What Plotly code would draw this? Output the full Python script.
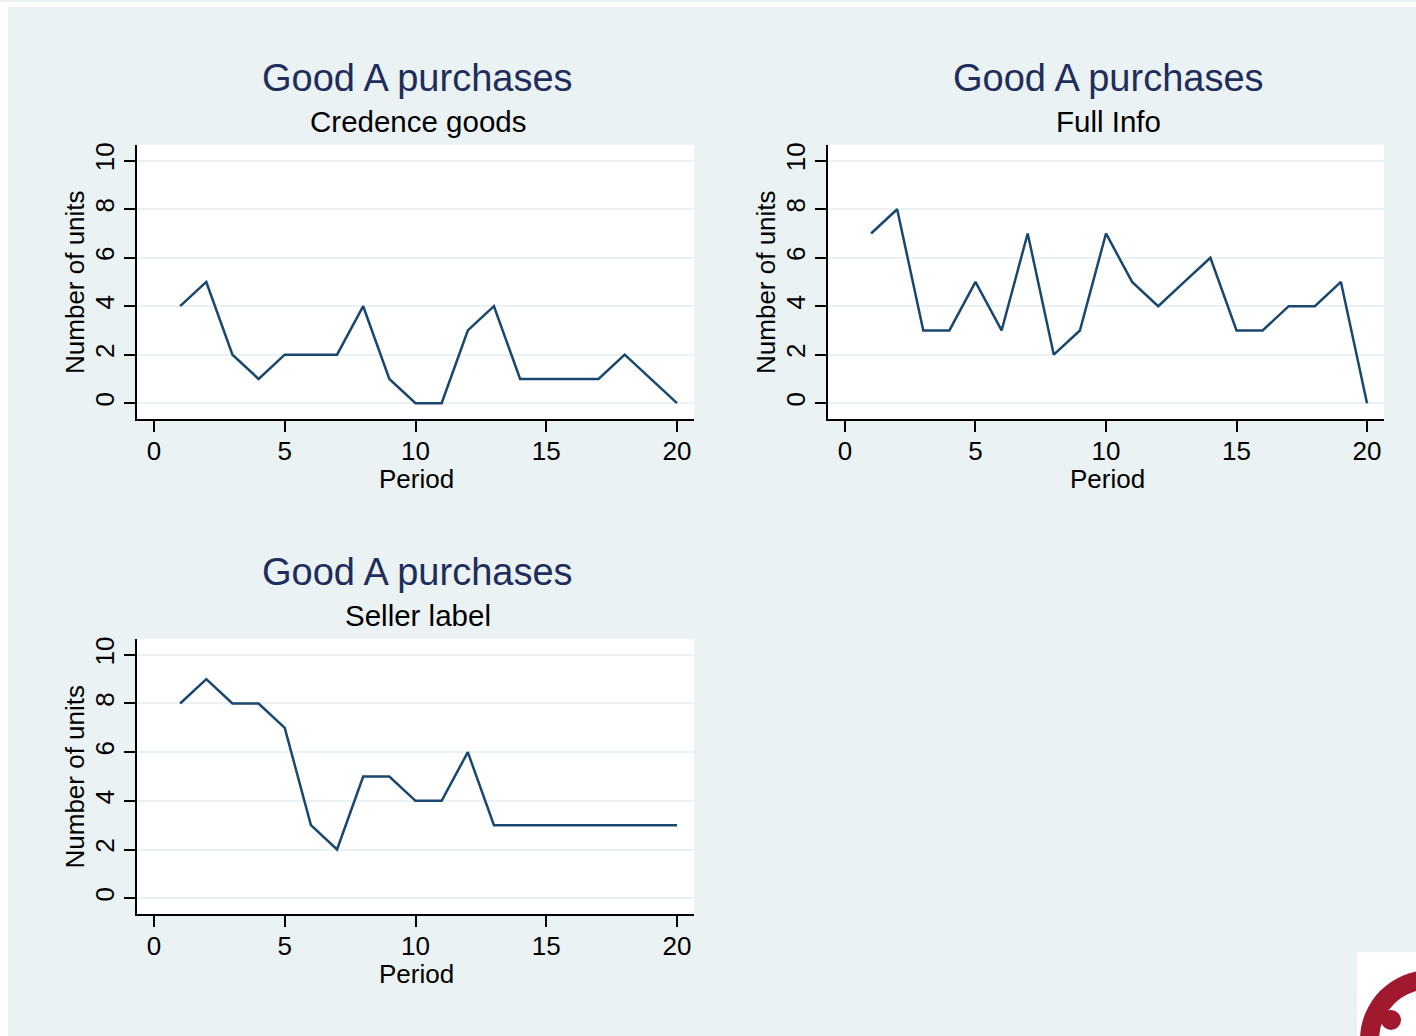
import plotly.graph_objects as go

W, H = 1416, 1036

periods = list(range(1, 21))
credence = [4, 5, 2, 1, 2, 2, 2, 4, 1, 0, 0, 3, 4, 1, 1, 1, 1, 2, 1, 0]
full_info = [7, 8, 3, 3, 5, 3, 7, 2, 3, 7, 5, 4, 5, 6, 3, 3, 4, 4, 5, 0]
seller_label = [8, 9, 8, 8, 7, 3, 2, 5, 5, 4, 4, 6, 3, 3, 3, 3, 3, 3, 3, 3]

main_title = "Good A purchases"
subtitles = ["Credence goods", "Full Info", "Seller label"]
x_ticks = [0, 5, 10, 15, 20]
y_ticks = [0, 2, 4, 6, 8, 10]
x_title = "Period"
y_title = "Number of units"

BG = "#EAF2F3"
LINE = "#1a476f"
TITLE_C = "#1e2d5c"
FONT = "Liberation Sans, Arial, sans-serif"

# panel pixel boxes: (left, right, top, bottom)
boxes = [(137, 694, 143, 418), (828, 1384, 143, 418), (137, 694, 638, 914)]
series = [credence, full_info, seller_label]

fig = go.Figure()
annotations = []


def ann(text, xp, yp, size, color="black", angle=0):
    return dict(text=text, x=xp / W, y=1 - yp / H, xref="paper", yref="paper",
                xanchor="center", yanchor="middle", showarrow=False, textangle=angle,
                font=dict(family=FONT, size=size, color=color))


for i, ((l, r, t, b), ys, sub) in enumerate(zip(boxes, series, subtitles)):
    n = "" if i == 0 else str(i + 1)
    fig.add_trace(go.Scatter(x=periods, y=ys, mode="lines",
                             line=dict(color=LINE, width=2.5),
                             xaxis="x" + n, yaxis="y" + n, showlegend=False,
                             hoverinfo="x+y"))
    xd = [l / W, r / W]
    yd = [1 - b / H, 1 - t / H]
    fig.layout["xaxis" + n] = dict(
        domain=xd, anchor="y" + n, range=[-0.65, 20.65],
        tickvals=x_ticks, ticks="outside", ticklen=11, tickwidth=2, tickcolor="black",
        showline=True, linecolor="black", linewidth=2, showgrid=False, zeroline=False,
        tickfont=dict(family=FONT, size=26, color="black"), ticklabelstandoff=-3,
    )
    fig.layout["yaxis" + n] = dict(
        domain=yd, anchor="x" + n, range=[-0.66, 10.66],
        tickvals=y_ticks, ticks="outside", ticklen=11, tickwidth=2, tickcolor="black",
        tickangle=-90,
        showline=True, linecolor="black", linewidth=2,
        showgrid=True, gridcolor=BG, gridwidth=2, zeroline=False,
        tickfont=dict(family=FONT, size=26, color="black"),
    )
    cx = (l + r) / 2 + 2
    annotations.append(ann(main_title, cx, t - 67, 38, TITLE_C))
    annotations.append(ann(sub, cx, t - 23, 29.5))
    annotations.append(ann(x_title, (l + r) / 2 + 1, b + 60, 26))
    annotations.append(ann(y_title, l - 62, (t + b) / 2, 26, angle=-90))

shapes = [
    dict(type="rect", xref="paper", yref="paper", x0=0, x1=8 / W, y0=0, y1=1,
         fillcolor="white", line=dict(width=0), layer="above"),
    dict(type="rect", xref="paper", yref="paper", x0=0, x1=1, y0=1 - 5 / H, y1=1,
         fillcolor="white", line=dict(width=0), layer="above"),
    # logo
    dict(type="rect", xref="paper", yref="paper", x0=1357 / W, x1=1.01, y0=-0.01, y1=1 - 952 / H,
         fillcolor="white", line=dict(width=0), layer="above"),
    dict(type="circle", xref="paper", yref="paper",
         x0=(1430 - 70) / W, x1=(1430 + 70) / W, y0=1 - (1040 + 70) / H, y1=1 - (1040 - 70) / H,
         fillcolor="#A0192E", line=dict(width=0), layer="above"),
    dict(type="circle", xref="paper", yref="paper",
         x0=(1430 - 51) / W, x1=(1430 + 51) / W, y0=1 - (1040 + 51) / H, y1=1 - (1040 - 51) / H,
         fillcolor="white", line=dict(width=0), layer="above"),
    dict(type="circle", xref="paper", yref="paper",
         x0=(1391 - 10) / W, x1=(1391 + 10) / W, y0=1 - (1020 + 10) / H, y1=1 - (1020 - 10) / H,
         fillcolor="#A0192E", line=dict(width=0), layer="above"),
]

fig.update_layout(
    width=W, height=H, margin=dict(l=0, r=0, t=0, b=0),
    paper_bgcolor=BG, plot_bgcolor="white",
    annotations=annotations, shapes=shapes,
    font=dict(family=FONT),
)

fig.write_html("out.html")
